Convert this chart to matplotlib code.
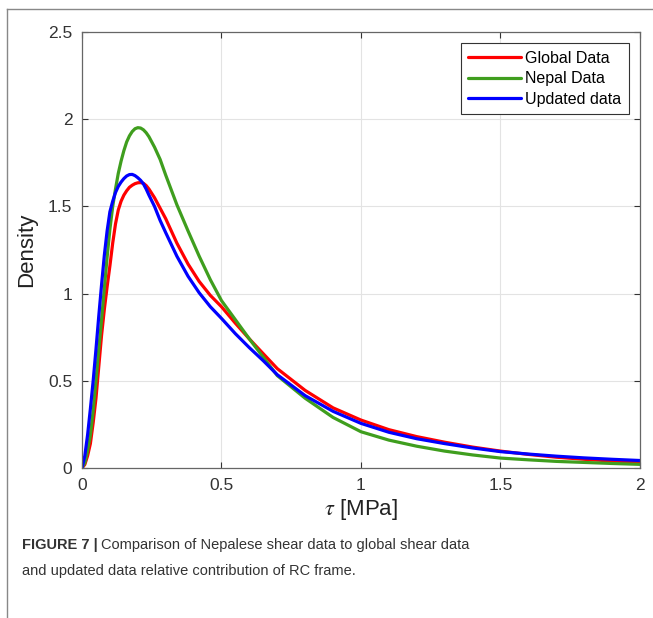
import matplotlib
matplotlib.use("Agg")
import matplotlib.pyplot as plt
from matplotlib.lines import Line2D

plt.rcParams['font.family'] = ['Liberation Sans', 'DejaVu Sans']
plt.rcParams['mathtext.fontset'] = 'stix'

tau = [0, 0.01, 0.02, 0.03, 0.04, 0.05, 0.06, 0.07, 0.08, 0.09, 0.10, 0.11,
       0.12, 0.13, 0.14, 0.15, 0.16, 0.17, 0.18, 0.19, 0.20, 0.21, 0.22,
       0.23, 0.24, 0.26, 0.28, 0.30, 0.34, 0.38, 0.42, 0.46, 0.50, 0.55,
       0.60, 0.65, 0.70, 0.80, 0.90, 1.00, 1.10, 1.20, 1.30, 1.40, 1.50,
       1.60, 1.70, 1.80, 1.90, 2.00]

global_data = [0, 0.02, 0.07, 0.14, 0.26, 0.40, 0.58, 0.76, 0.91, 1.04, 1.16,
               1.29, 1.40, 1.48, 1.53, 1.565, 1.59, 1.61, 1.622, 1.631, 1.636,
               1.637, 1.633, 1.62, 1.60, 1.55, 1.49, 1.43, 1.29, 1.17, 1.07,
               0.99, 0.925, 0.83, 0.74, 0.655, 0.57, 0.445, 0.345, 0.275, 0.22,
               0.18, 0.148, 0.12, 0.097, 0.078, 0.062, 0.05, 0.04, 0.032]

nepal_data = [0, 0.03, 0.10, 0.19, 0.33, 0.50, 0.68, 0.85, 1.03, 1.21, 1.37,
              1.50, 1.60, 1.69, 1.76, 1.82, 1.87, 1.905, 1.93, 1.946, 1.952,
              1.95, 1.94, 1.923, 1.90, 1.84, 1.77, 1.68, 1.51, 1.36, 1.215,
              1.08, 0.96, 0.85, 0.74, 0.635, 0.53, 0.40, 0.29, 0.208, 0.16,
              0.125, 0.097, 0.075, 0.057, 0.047, 0.038, 0.032, 0.026, 0.021]

updated_data = [0, 0.07, 0.19, 0.34, 0.50, 0.68, 0.87, 1.05, 1.22, 1.36, 1.47,
                1.53, 1.58, 1.615, 1.64, 1.66, 1.675, 1.683, 1.684, 1.677,
                1.665, 1.65, 1.63, 1.60, 1.565, 1.50, 1.42, 1.35, 1.215, 1.10,
                1.005, 0.925, 0.858, 0.77, 0.69, 0.615, 0.535, 0.415, 0.325,
                0.256, 0.205, 0.168, 0.14, 0.115, 0.094, 0.08, 0.068, 0.058,
                0.05, 0.043]

labels = ['Global Data', 'Nepal Data', 'Updated data']
colors = ['#ff0000', '#3f9e1e', '#0000ff']

fig = plt.figure(figsize=(6.53, 6.18), dpi=100)
ax = fig.add_axes([0.1256, 0.2427, 0.8544, 0.7053])

for ys, lab, c in zip([global_data, nepal_data, updated_data], labels, colors):
    ax.plot(tau, ys, color=c, lw=2.3, label=lab, solid_capstyle='round',
            solid_joinstyle='round')

ax.set_xlim(0, 2)
ax.set_ylim(0, 2.5)
ax.set_xticks([0, 0.5, 1, 1.5, 2])
ax.set_xticklabels(['0', '0.5', '1', '1.5', '2'])
ax.set_yticks([0, 0.5, 1, 1.5, 2, 2.5])
ax.set_yticklabels(['0', '0.5', '1', '1.5', '2', '2.5'])
ax.tick_params(direction='in', length=4, width=0.8, colors='#333333',
               labelsize=12.5, top=True, right=True, pad=7)
ax.grid(True, color='#e3e3e3', lw=0.8)
for s in ax.spines.values():
    s.set_color('#666666')
    s.set_linewidth(0.9)

ax.set_xlabel(r'$\tau$ [MPa]', fontsize=16, color='#222222', labelpad=3)
ax.set_ylabel('Density', fontsize=16, color='#222222', labelpad=8)

leg = ax.legend(loc='upper right', fontsize=11.5, handlelength=3.3,
                handletextpad=0.3, borderpad=0.45, labelspacing=0.35,
                fancybox=False, framealpha=1, edgecolor='#333333',
                borderaxespad=0.7)
leg.get_frame().set_linewidth(0.8)

# outer frame of the figure panel
fig.add_artist(Line2D([7 / 653, 1], [1 - 9 / 618, 1 - 9 / 618],
                      color='#888888', lw=1, transform=fig.transFigure))
fig.add_artist(Line2D([7 / 653, 7 / 653], [0, 1 - 9 / 618],
                      color='#888888', lw=1, transform=fig.transFigure))

# caption
t1 = fig.text(22 / 653, 1 - 545 / 618, 'FIGURE 7 |', fontsize=10.5,
              fontweight='bold', color='#333333', va='center')
fig.canvas.draw()
bb = t1.get_window_extent()
fig.text(bb.x1 / fig.bbox.width + 3 / 653, 1 - 545 / 618,
         'Comparison of Nepalese shear data to global shear data',
         fontsize=10.5, color='#333333', va='center')
fig.text(22 / 653, 1 - 571 / 618,
         'and updated data relative contribution of RC frame.',
         fontsize=10.5, color='#333333', va='center')

fig.savefig('out.png', dpi=100)
